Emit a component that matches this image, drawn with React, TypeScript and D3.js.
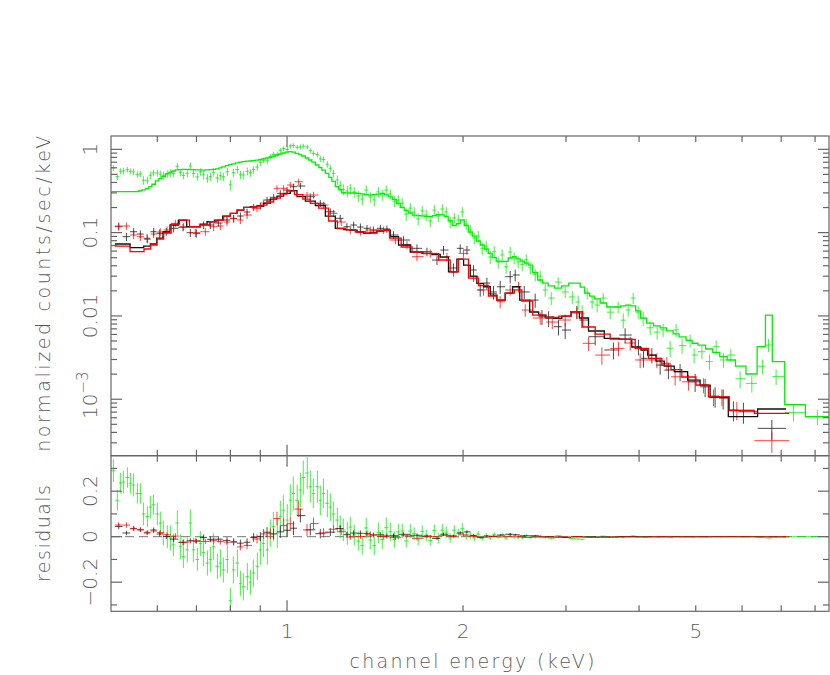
import React, { useEffect, useRef } from "react";
import * as d3 from "d3";

// ---- values ----
// green data group
const greenEnergy = [
  0.5047, 0.5127, 0.5188, 0.525, 0.5333, 0.5396, 0.5461, 0.5547, 0.5613, 0.568,
  0.577, 0.5838, 0.5908, 0.6001, 0.6072, 0.6144, 0.6242, 0.6316, 0.6391, 0.6493,
  0.657, 0.6648, 0.6753, 0.6834, 0.6915, 0.7026, 0.7109, 0.7194, 0.7309, 0.7395,
  0.7482, 0.7602, 0.7691, 0.7782, 0.7906, 0.8, 0.8095, 0.8224, 0.8323, 0.842,
  0.8553, 0.8657, 0.8758, 0.8897, 0.9004, 0.911, 0.9254, 0.9363, 0.9475, 0.9625,
  0.9739, 0.9856, 1.001, 1.013, 1.025, 1.041, 1.054, 1.066, 1.083, 1.096,
  1.109, 1.127, 1.14, 1.154, 1.172, 1.186, 1.2, 1.219, 1.233, 1.248,
  1.268, 1.283, 1.303, 1.324, 1.345, 1.366, 1.388, 1.41, 1.433, 1.455,
  1.478, 1.502, 1.526, 1.55, 1.574, 1.599, 1.625, 1.65, 1.676, 1.703,
  1.73, 1.758, 1.786, 1.814, 1.843, 1.872, 1.901, 1.932, 1.963, 1.994,
  2.025, 2.058, 2.09, 2.123, 2.157, 2.191, 2.226, 2.261, 2.297, 2.333,
  2.37, 2.408, 2.446, 2.485, 2.525, 2.565, 2.606, 2.657, 2.71, 2.764,
  2.83, 2.909, 2.99, 3.075, 3.147, 3.197, 3.261, 3.325, 3.391, 3.473,
  3.57, 3.685, 3.758, 3.832, 3.908, 3.986, 4.065, 4.178, 4.295, 4.397,
  4.52, 4.628, 4.738, 4.89, 4.968, 5.122, 5.277, 5.418, 5.577, 5.741,
  5.955, 6.236, 6.501, 6.658, 6.861, 7.345, 8.072,
];
const greenCounts = [
  0.6, 0.47, 0.546, 0.55, 0.57, 0.545, 0.537, 0.5, 0.508, 0.426,
  0.425, 0.487, 0.521, 0.519, 0.504, 0.486, 0.507, 0.522, 0.513, 0.626,
  0.527, 0.486, 0.516, 0.632, 0.511, 0.467, 0.536, 0.494, 0.451, 0.471,
  0.53, 0.453, 0.482, 0.469, 0.537, 0.375, 0.524, 0.571, 0.495, 0.492,
  0.544, 0.524, 0.572, 0.612, 0.697, 0.739, 0.729, 0.818, 0.868, 0.871,
  0.967, 1.02, 0.998, 1.096, 1.113, 1.056, 1.069, 1.091, 1.067, 0.964,
  0.89, 0.868, 0.765, 0.754, 0.662, 0.591, 0.513, 0.429, 0.371, 0.331,
  0.315, 0.341, 0.307, 0.276, 0.253, 0.325, 0.268, 0.247, 0.308, 0.283,
  0.324, 0.291, 0.239, 0.246, 0.226, 0.167, 0.197, 0.176, 0.146, 0.182,
  0.163, 0.138, 0.187, 0.158, 0.192, 0.177, 0.134, 0.15, 0.142, 0.177,
  0.127, 0.108, 0.086, 0.091, 0.065, 0.069, 0.051, 0.059, 0.0444, 0.054,
  0.039, 0.0586, 0.0496, 0.0445, 0.0416, 0.0472, 0.0378, 0.0312, 0.03, 0.0205,
  0.0164, 0.0255, 0.0194, 0.0169, 0.0147, 0.0108, 0.0188, 0.0147, 0.0135, 0.0164,
  0.0111, 0.0128, 0.0089, 0.0118, 0.0164, 0.0111, 0.0094, 0.0072, 0.0064, 0.0068,
  0.0041, 0.0068, 0.0044, 0.0051, 0.0034, 0.00372, 0.00283, 0.00427, 0.00296, 0.00339,
  0.00176, 0.00155, 0.00249, 0.00447, 0.00188, 0.000695, 0.000617,
];
const greenModel = [
  0.31, 0.31, 0.31, 0.31, 0.31, 0.31, 0.31, 0.31, 0.318, 0.326,
  0.337, 0.357, 0.381, 0.419, 0.444, 0.47, 0.507, 0.528, 0.549, 0.566,
  0.571, 0.574, 0.574, 0.572, 0.569, 0.567, 0.566, 0.564, 0.567, 0.571,
  0.574, 0.583, 0.598, 0.615, 0.637, 0.655, 0.67, 0.687, 0.7, 0.712,
  0.72, 0.724, 0.732, 0.742, 0.755, 0.769, 0.787, 0.802, 0.824, 0.855,
  0.879, 0.903, 0.925, 0.936, 0.923, 0.896, 0.864, 0.831, 0.787, 0.744,
  0.7, 0.648, 0.605, 0.564, 0.515, 0.461, 0.413, 0.356, 0.327, 0.301,
  0.3, 0.299, 0.299, 0.2955, 0.2914, 0.2866, 0.2827, 0.2866, 0.2906, 0.2955,
  0.2843, 0.2691, 0.2511, 0.2247, 0.2012, 0.1852, 0.1719, 0.1622, 0.16, 0.1587,
  0.1569, 0.1552, 0.16, 0.1649, 0.1635, 0.1569, 0.1397, 0.1217, 0.1279, 0.1417,
  0.1217, 0.1017, 0.091, 0.0793, 0.071, 0.0636, 0.0564, 0.05, 0.0454, 0.045,
  0.0452, 0.0496, 0.0516, 0.0485, 0.0456, 0.0432, 0.0408, 0.0332, 0.027, 0.0248,
  0.0229, 0.0216, 0.0229, 0.0248, 0.0248, 0.0222, 0.0188, 0.0173, 0.016, 0.0143,
  0.0128, 0.0128, 0.0132, 0.0135, 0.0132, 0.0115, 0.0094, 0.0082, 0.0076, 0.0072,
  0.0066, 0.0061, 0.0056, 0.0051, 0.0047, 0.00446, 0.00401, 0.00366, 0.00324, 0.00296,
  0.0025, 0.00201, 0.00427, 0.01025, 0.00283, 0.00086, 0.000617,
];
const greenError = [
  0.05, 0.045, 0.045, 0.05, 0.045, 0.045, 0.05, 0.045, 0.045, 0.05,
  0.045, 0.05, 0.045, 0.05, 0.05, 0.055, 0.05, 0.055, 0.05, 0.055,
  0.055, 0.05, 0.055, 0.06, 0.055, 0.05, 0.055, 0.06, 0.055, 0.055,
  0.06, 0.055, 0.06, 0.055, 0.06, 0.055, 0.06, 0.06, 0.055, 0.06,
  0.06, 0.055, 0.06, 0.06, 0.065, 0.06, 0.065, 0.06, 0.065, 0.065,
  0.07, 0.065, 0.07, 0.07, 0.075, 0.07, 0.075, 0.075, 0.07, 0.07,
  0.065, 0.07, 0.065, 0.065, 0.06, 0.06, 0.055, 0.055, 0.05, 0.05,
  0.05, 0.045, 0.045, 0.042, 0.04, 0.045, 0.04, 0.04, 0.045, 0.042,
  0.045, 0.04, 0.036, 0.035, 0.032, 0.028, 0.03, 0.027, 0.024, 0.027,
  0.025, 0.022, 0.027, 0.024, 0.027, 0.025, 0.021, 0.022, 0.021, 0.025,
  0.019, 0.016, 0.014, 0.014, 0.011, 0.011, 0.009, 0.01, 0.0075, 0.009,
  0.0068, 0.009, 0.008, 0.0072, 0.007, 0.0075, 0.0062, 0.0052, 0.005, 0.0035,
  0.003, 0.0035, 0.003, 0.003, 0.0028, 0.0025, 0.003, 0.0025, 0.0025, 0.0025,
  0.002, 0.002, 0.0018, 0.002, 0.0025, 0.002, 0.0018, 0.0013, 0.0012, 0.0012,
  0.0009, 0.0012, 0.0009, 0.0009, 0.0007, 0.0007, 0.0006, 0.0008, 0.0006, 0.0006,
  0.0004, 0.00035, 0.0005, 0.0008, 0.0004, 0.00015, 0.00013,
];

// black data group
const blackEnergy = [
  0.5154, 0.5313, 0.5467, 0.5613, 0.5763, 0.5915, 0.6056, 0.6217, 0.6399, 0.664,
  0.6834, 0.6998, 0.7202, 0.7395, 0.7632, 0.7895, 0.8104, 0.8322, 0.8543, 0.8768,
  0.9003, 0.9243, 0.9486, 0.9739, 1.0, 1.026, 1.054, 1.096, 1.14, 1.186,
  1.233, 1.266, 1.3, 1.335, 1.37, 1.405, 1.444, 1.482, 1.521, 1.582,
  1.668, 1.735, 1.805, 1.852, 1.926, 1.978, 2.031, 2.084, 2.14, 2.197,
  2.255, 2.315, 2.408, 2.456, 2.545, 2.657, 2.729, 2.801, 2.913, 2.99,
  3.131, 3.193, 3.365, 3.616, 3.786, 3.99, 4.07, 4.206, 4.346, 4.49,
  4.701, 4.988, 5.188, 5.396, 5.57, 5.8, 6.033, 6.747,
];
const blackCounts = [
  0.1177, 0.0893, 0.1025, 0.0962, 0.0854, 0.1025, 0.0981, 0.1025, 0.1126, 0.1158,
  0.0997, 0.0981, 0.1234, 0.1234, 0.1304, 0.1416, 0.1469, 0.1582, 0.1767, 0.2012,
  0.2086, 0.2462, 0.2653, 0.2963, 0.3246, 0.3556, 0.3625, 0.2698, 0.2247, 0.1782,
  0.1485, 0.1177, 0.1234, 0.1167, 0.1126, 0.1074, 0.1126, 0.1105, 0.0936, 0.0815,
  0.0648, 0.059, 0.0469, 0.0618, 0.0376, 0.0648, 0.0618, 0.0356, 0.0205, 0.0248,
  0.0194, 0.0224, 0.0296, 0.031, 0.0194, 0.0155, 0.00978, 0.00936, 0.00742, 0.00677,
  0.01123, 0.00893, 0.00563, 0.0039, 0.0059, 0.00427, 0.0031, 0.00339, 0.00257, 0.00224,
  0.00214, 0.00162, 0.00141, 0.00109, 0.00103, 0.000742, 0.000708, 0.000447,
];
const blackModel = [
  0.073, 0.073, 0.0659, 0.0659, 0.069, 0.073, 0.0861, 0.1017, 0.1234, 0.1416,
  0.1177, 0.1177, 0.1268, 0.1351, 0.1416, 0.1582, 0.1705, 0.1867, 0.2012, 0.2046,
  0.2086, 0.2266, 0.2531, 0.275, 0.2963, 0.3184, 0.2698, 0.2395, 0.2115, 0.1582,
  0.1126, 0.1089, 0.1074, 0.1017, 0.0981, 0.1003, 0.1045, 0.1074, 0.0893, 0.071,
  0.0585, 0.0564, 0.0546, 0.0509, 0.0339, 0.0482, 0.0408, 0.0301, 0.0246, 0.0224,
  0.0178, 0.0155, 0.0188, 0.0224, 0.0155, 0.01114, 0.01025, 0.0097, 0.00936, 0.00997,
  0.01123, 0.00944, 0.00659, 0.00538, 0.00528, 0.00423, 0.0039, 0.00339, 0.00287, 0.0025,
  0.00214, 0.0017, 0.00148, 0.00105, 0.00105, 0.000617, 0.000617, 0.000763,
];
const blackError = [
  0.012, 0.01, 0.011, 0.01, 0.01, 0.011, 0.011, 0.011, 0.012, 0.012,
  0.011, 0.011, 0.013, 0.013, 0.013, 0.014, 0.015, 0.016, 0.017, 0.019,
  0.02, 0.022, 0.024, 0.026, 0.028, 0.03, 0.03, 0.025, 0.021, 0.017,
  0.015, 0.012, 0.012, 0.012, 0.011, 0.011, 0.011, 0.011, 0.01, 0.009,
  0.0075, 0.007, 0.006, 0.0075, 0.005, 0.0075, 0.0075, 0.005, 0.0035, 0.004,
  0.0035, 0.004, 0.005, 0.005, 0.0035, 0.003, 0.002, 0.002, 0.0016, 0.0015,
  0.002, 0.0018, 0.0012, 0.0009, 0.0012, 0.0009, 0.0007, 0.0007, 0.0006, 0.0005,
  0.0005, 0.0004, 0.00035, 0.0003, 0.00028, 0.0002, 0.0002, 0.00012,
];

// red data group
const redEnergy = [
  0.5154, 0.5313, 0.5467, 0.5613, 0.5777, 0.5915, 0.6072, 0.6234, 0.6442, 0.6656,
  0.6969, 0.725, 0.7491, 0.7691, 0.7895, 0.8104, 0.8322, 0.8543, 0.8887, 0.9121,
  0.9365, 0.9614, 0.9867, 1.013, 1.047, 1.082, 1.11, 1.155, 1.201, 1.238,
  1.283, 1.335, 1.388, 1.463, 1.532, 1.604, 1.668, 1.758, 1.877, 1.926,
  2.004, 2.084, 2.168, 2.255, 2.315, 2.408, 2.488, 2.555, 2.71, 2.842,
  2.99, 3.131, 3.279, 3.455, 3.689, 3.863, 4.017, 4.29, 4.462, 4.61,
  4.859, 5.154, 5.362, 5.542, 5.878, 6.747,
];
const redCounts = [
  0.12, 0.12, 0.0936, 0.0893, 0.0831, 0.0962, 0.1017, 0.1074, 0.1293, 0.1177,
  0.0997, 0.1025, 0.1177, 0.12, 0.134, 0.1485, 0.1416, 0.1627, 0.1957, 0.2266,
  0.2462, 0.3402, 0.3402, 0.3726, 0.408, 0.2827, 0.2827, 0.2144, 0.1705, 0.134,
  0.1074, 0.1025, 0.1074, 0.1074, 0.0815, 0.071, 0.0514, 0.0564, 0.0514, 0.0339,
  0.0564, 0.0296, 0.0205, 0.0186, 0.0148, 0.0205, 0.0224, 0.01177, 0.00944, 0.00845,
  0.00893, 0.01083, 0.00469, 0.00339, 0.00408, 0.00473, 0.00296, 0.00296, 0.0027, 0.00186,
  0.00162, 0.00148, 0.00107, 0.00107, 0.000742, 0.000318,
];
const redModel = [
  0.069, 0.069, 0.059, 0.059, 0.0636, 0.071, 0.0838, 0.0989, 0.1268, 0.1416,
  0.1177, 0.1234, 0.1351, 0.1416, 0.1582, 0.1705, 0.1867, 0.2012, 0.2057, 0.2144,
  0.233, 0.2602, 0.2906, 0.3158, 0.2866, 0.2531, 0.2247, 0.1973, 0.1378, 0.112,
  0.1089, 0.1017, 0.0989, 0.106, 0.0861, 0.0672, 0.0585, 0.0561, 0.0469, 0.0339,
  0.0482, 0.0285, 0.0232, 0.0173, 0.0155, 0.0188, 0.0205, 0.0151, 0.01025, 0.00957,
  0.00997, 0.01123, 0.00736, 0.00606, 0.00528, 0.00524, 0.00408, 0.0031, 0.00257, 0.00227,
  0.00185, 0.00148, 0.00107, 0.00107, 0.000728, 0.000677,
];
const redError = [
  0.012, 0.012, 0.01, 0.01, 0.009, 0.01, 0.011, 0.011, 0.013, 0.012,
  0.011, 0.011, 0.013, 0.013, 0.014, 0.015, 0.015, 0.017, 0.02, 0.022,
  0.024, 0.03, 0.03, 0.032, 0.035, 0.026, 0.026, 0.02, 0.017, 0.014,
  0.012, 0.011, 0.011, 0.011, 0.009, 0.008, 0.006, 0.0065, 0.006, 0.0045,
  0.0065, 0.004, 0.003, 0.003, 0.0025, 0.003, 0.0032, 0.002, 0.0016, 0.0015,
  0.0015, 0.0017, 0.0009, 0.0008, 0.0008, 0.0009, 0.0006, 0.0006, 0.0005, 0.0004,
  0.00035, 0.0003, 0.00024, 0.00024, 0.00018, 0.00009,
];

// axis ticks
const xLabelTicks = [1, 2, 5];
const xMinorTicks = [0.6, 0.7, 0.8, 0.9, 2, 3, 4, 5, 6, 7, 8];
const yDecades = [1, 0.1, 0.01, 0.001];
const residTicks = [0.2, 0, -0.2];
const residMinor = [0.3, 0.1, -0.1, -0.3];

const W = 830;
const H = 675;
const box = { left: 111, right: 829, top: 136, mid: 455.7, bottom: 611.3 };
const axisColor = "#666";
const textColor = "#5c5c5c";
const font = "'DejaVu Sans', sans-serif";

function binEdges(e: number[]) {
  const lo: number[] = [];
  const hi: number[] = [];
  for (let i = 0; i < e.length; i++) {
    const l = i > 0 ? Math.sqrt(e[i - 1] * e[i]) : (e[0] * e[0]) / Math.sqrt(e[0] * e[1]);
    const h = i < e.length - 1 ? Math.sqrt(e[i] * e[i + 1]) : (e[i] * e[i]) / Math.sqrt(e[i - 1] * e[i]);
    lo.push(l);
    hi.push(h);
  }
  return { lo, hi };
}

export default function App() {
  const svgRef = useRef<SVGSVGElement>(null);

  useEffect(() => {
    const svg = d3.select(svgRef.current);
    svg.selectAll("*").remove();

    const x = d3.scaleLog().domain([0.5, 8.45]).range([box.left, box.right]);
    const y = d3.scaleLog().domain([1.445, 2.1e-4]).range([box.top, box.mid]);
    const yr = d3.scaleLinear().domain([0.356, -0.328]).range([box.mid, box.bottom]);

    const defs = svg.append("defs");
    defs.append("clipPath").attr("id", "clipTop")
      .append("rect").attr("x", box.left).attr("y", box.top)
      .attr("width", box.right - box.left).attr("height", box.mid - box.top);
    defs.append("clipPath").attr("id", "clipRes")
      .append("rect").attr("x", box.left).attr("y", box.mid)
      .attr("width", box.right - box.left).attr("height", box.bottom - box.mid);

    const series = [
      { e: greenEnergy, c: greenCounts, m: greenModel, err: greenError, color: "#00ee00", op: 0.75 },
      { e: blackEnergy, c: blackCounts, m: blackModel, err: blackError, color: "#111", op: 0.75 },
      { e: redEnergy, c: redCounts, m: redModel, err: redError, color: "#ff0000", op: 0.75 },
    ];

    const top = svg.append("g").attr("clip-path", "url(#clipTop)");
    const res = svg.append("g").attr("clip-path", "url(#clipRes)");

    // zero line in residual panel
    res.append("line")
      .attr("x1", box.left).attr("x2", box.right)
      .attr("y1", yr(0)).attr("y2", yr(0))
      .attr("stroke", "#777").attr("stroke-width", 1)
      .attr("stroke-dasharray", "9,5");

    series.forEach(s => {
      const { lo, hi } = binEdges(s.e);
      const gTop = top.append("g").attr("stroke", s.color).attr("stroke-opacity", s.op).attr("stroke-width", 1);
      const gRes = res.append("g").attr("stroke", s.color).attr("stroke-opacity", s.op).attr("stroke-width", 1);
      s.e.forEach((en, i) => {
        const c = s.c[i];
        const err = s.err[i];
        // spectrum cross
        gTop.append("line")
          .attr("x1", x(lo[i])).attr("x2", x(hi[i]))
          .attr("y1", y(c)).attr("y2", y(c));
        gTop.append("line")
          .attr("x1", x(en)).attr("x2", x(en))
          .attr("y1", y(c + err)).attr("y2", c - err > 1e-6 ? y(c - err) : box.mid + 5);
        // residual cross
        const r = c - s.m[i];
        gRes.append("line")
          .attr("x1", x(lo[i])).attr("x2", x(hi[i]))
          .attr("y1", yr(r)).attr("y2", yr(r));
        gRes.append("line")
          .attr("x1", x(en)).attr("x2", x(en))
          .attr("y1", yr(r + err)).attr("y2", yr(r - err));
      });
    });

    // folded model as histogram steps
    series.forEach(s => {
      const { lo, hi } = binEdges(s.e);
      let d = `M${x(lo[0])},${y(s.m[0])}H${x(hi[0])}`;
      for (let i = 1; i < s.e.length; i++) {
        d += `V${y(s.m[i])}H${x(hi[i])}`;
      }
      top.append("path").attr("d", d)
        .attr("fill", "none").attr("stroke", s.color).attr("stroke-width", 1.3);
    });

    // frames
    const frame = svg.append("g").attr("fill", "none").attr("stroke", axisColor).attr("stroke-width", 1.2);
    frame.append("rect").attr("x", box.left).attr("y", box.top)
      .attr("width", box.right - box.left).attr("height", box.mid - box.top);
    frame.append("rect").attr("x", box.left).attr("y", box.mid)
      .attr("width", box.right - box.left).attr("height", box.bottom - box.mid);

    const ticks = svg.append("g").attr("stroke", axisColor).attr("stroke-width", 1.2);
    const major = 11;
    const minor = 6;

    // x ticks on all horizontal edges
    const xAll = [...xMinorTicks.map(v => ({ v, len: minor })), { v: 1, len: major }];
    [box.top, box.mid, box.bottom].forEach(edge => {
      xAll.forEach(t => {
        const px = x(t.v);
        if (edge !== box.top) {
          ticks.append("line").attr("x1", px).attr("x2", px).attr("y1", edge).attr("y2", edge - t.len);
        }
        if (edge !== box.bottom) {
          ticks.append("line").attr("x1", px).attr("x2", px).attr("y1", edge).attr("y2", edge + t.len);
        }
      });
    });

    // log y ticks on top panel
    const yMinor: number[] = [];
    [1, 0.1, 0.01, 0.001, 0.0001].forEach(dec => {
      for (let k = 2; k <= 9; k++) {
        const v = dec * k;
        if (v < 1.445 && v > 2.1e-4) yMinor.push(v);
      }
    });
    const yAll = [...yDecades.map(v => ({ v, len: major })), ...yMinor.map(v => ({ v, len: minor }))];
    yAll.forEach(t => {
      const py = y(t.v);
      ticks.append("line").attr("x1", box.left).attr("x2", box.left + t.len).attr("y1", py).attr("y2", py);
      ticks.append("line").attr("x1", box.right).attr("x2", box.right - t.len).attr("y1", py).attr("y2", py);
    });

    // residual y ticks
    const rAll = [...residTicks.map(v => ({ v, len: major })), ...residMinor.map(v => ({ v, len: minor }))];
    rAll.forEach(t => {
      const py = yr(t.v);
      ticks.append("line").attr("x1", box.left).attr("x2", box.left + t.len).attr("y1", py).attr("y2", py);
      ticks.append("line").attr("x1", box.right).attr("x2", box.right - t.len).attr("y1", py).attr("y2", py);
    });

    // labels
    const txt = svg.append("g")
      .attr("fill", textColor)
      .style("font-family", font)
      .style("font-weight", "200");

    xLabelTicks.forEach(v => {
      txt.append("text")
        .attr("x", x(v)).attr("y", 638)
        .attr("text-anchor", "middle")
        .style("font-size", "20px")
        .text(String(v));
    });

    const rotLabel = (ty: number, label: string, size: number) =>
      txt.append("text")
        .attr("transform", `translate(97,${ty}) rotate(-90)`)
        .attr("text-anchor", "middle")
        .style("font-size", `${size}px`)
        .text(label);

    rotLabel(y(1), "1", 20);
    rotLabel(y(0.1), "0.1", 20);
    rotLabel(y(0.01), "0.01", 20);
    const pow = txt.append("text")
      .attr("transform", `translate(97,${y(0.001) - 4}) rotate(-90)`)
      .attr("text-anchor", "middle")
      .style("font-size", "20px");
    pow.append("tspan").text("10");
    pow.append("tspan").attr("dy", -9).style("font-size", "15px").text("\u22123");

    rotLabel(yr(0.2), "0.2", 20);
    rotLabel(yr(0), "0", 20);
    rotLabel(yr(-0.2), "\u22120.2", 20);

    txt.append("text")
      .attr("transform", `translate(50,${(box.top + box.mid) / 2 - 2}) rotate(-90)`)
      .attr("text-anchor", "middle")
      .attr("textLength", 316).attr("lengthAdjust", "spacing")
      .style("font-size", "19px")
      .text("normalized counts/sec/keV");

    txt.append("text")
      .attr("transform", `translate(50,${(box.mid + box.bottom) / 2}) rotate(-90)`)
      .attr("text-anchor", "middle")
      .attr("textLength", 97).attr("lengthAdjust", "spacing")
      .style("font-size", "19px")
      .text("residuals");

    txt.append("text")
      .attr("x", 472).attr("y", 668)
      .attr("text-anchor", "middle")
      .attr("textLength", 245).attr("lengthAdjust", "spacing")
      .style("font-size", "19px")
      .text("channel energy (keV)");
  }, []);

  return (
    <svg
      ref={svgRef}
      width={W}
      height={H}
      style={{ position: "absolute", left: 0, top: 0, background: "#fff" }}
    />
  );
}
